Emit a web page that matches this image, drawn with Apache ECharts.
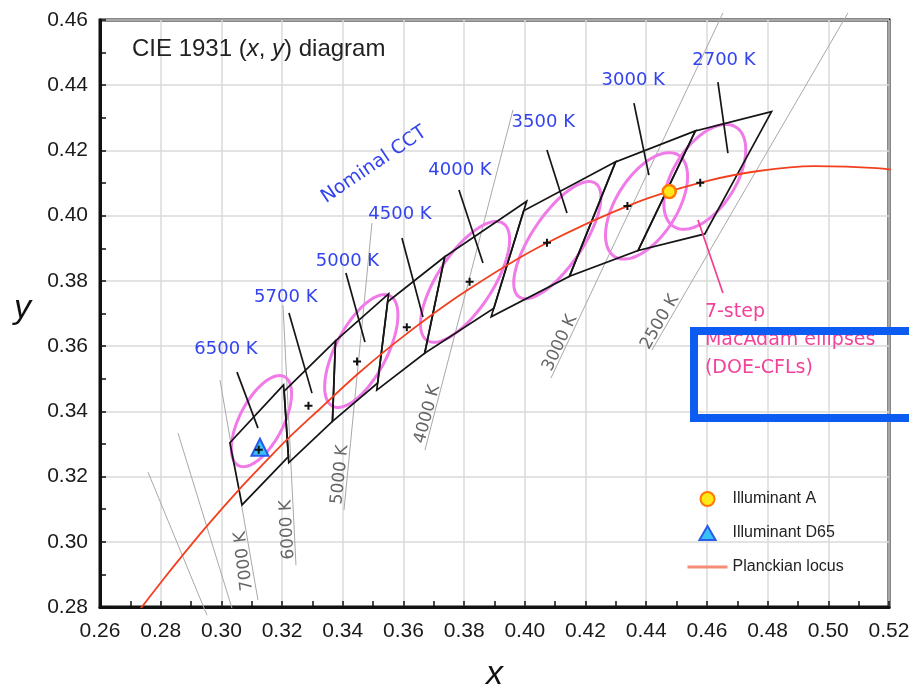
<!DOCTYPE html>
<html><head><meta charset="utf-8">
<script src="https://cdn.jsdelivr.net/npm/echarts@6/dist/echarts.min.js"></script>
<style>html,body{margin:0;padding:0;background:#fff}#c{width:909px;height:686px}</style>
</head><body><div id="c"></div>
<script>
// Planckian locus (CIE 1931 x, y)
const planckX = [0.2718,0.2807,0.2870,0.2952,0.3064,0.3135,0.3221,0.3325,0.3451,0.3608,0.3805,0.4053,0.4369,0.4599,0.4770,0.4953,0.5160,0.5269];
const planckY = [0.2776,0.2883,0.2956,0.3048,0.3166,0.3236,0.3318,0.3408,0.3516,0.3636,0.3768,0.3907,0.4041,0.4106,0.4137,0.4152,0.4146,0.4133];

// Nominal CCT quadrangles (corners x1,y1..x4,y4)
const quadNames = ['2700 K','3000 K','3500 K','4000 K','4500 K','5000 K','5700 K','6500 K'];
const quadCorners = [
  [0.4813,0.4319, 0.4562,0.4260, 0.4373,0.3893, 0.4593,0.3944],
  [0.4562,0.4260, 0.4299,0.4165, 0.4147,0.3814, 0.4373,0.3893],
  [0.4299,0.4165, 0.3996,0.4015, 0.3889,0.3690, 0.4147,0.3814],
  [0.4006,0.4044, 0.3736,0.3874, 0.3670,0.3578, 0.3898,0.3716],
  [0.3736,0.3874, 0.3548,0.3736, 0.3512,0.3465, 0.3670,0.3578],
  [0.3551,0.3760, 0.3376,0.3616, 0.3366,0.3369, 0.3515,0.3487],
  [0.3376,0.3616, 0.3207,0.3462, 0.3222,0.3243, 0.3366,0.3369],
  [0.3205,0.3481, 0.3028,0.3304, 0.3068,0.3113, 0.3221,0.3261]
];
const quadCenterX = [0.4578,0.4338,0.4073,0.3818,0.3611,0.3447,0.3287,0.3123];
const quadCenterY = [0.4101,0.4030,0.3917,0.3797,0.3658,0.3553,0.3417,0.3282];

// 7-step MacAdam ellipses (center, semi-axes, angle in degrees)
const ellCx = [0.3132,0.3461,0.3803,0.4107,0.4401,0.4593];
const ellCy = [0.3370,0.3585,0.3797,0.3925,0.4030,0.4119];
const ellA  = [0.0156,0.0194,0.0219,0.0215,0.0188,0.0184];
const ellB  = [0.0071,0.0083,0.0089,0.0082,0.0098,0.0101];
const ellAngle = [60,60,54.3,53.6,54.5,54.4];

// Isotherm lines (x1,y1,x2,y2)
const isoLines = [
  [0.27582,0.32135,0.29526,0.27748],
  [0.28570,0.33331,0.30349,0.27963],
  [0.29954,0.34957,0.31206,0.28209],
  [0.32030,0.37258,0.32458,0.29282],
  [0.34962,0.39773,0.34040,0.30969],
  [0.39608,0.43239,0.36708,0.32810],
  [0.46527,0.46215,0.40860,0.35018],
  [0.50646,0.46215,0.44188,0.35877]
];
const isoLabels = ['7000 K','6000 K','5000 K','4000 K','3000 K','2500 K'];
const isoLabelX = [0.30745,0.32178,0.33908,0.36791,0.41157,0.44451];
const isoLabelY = [0.29405,0.30371,0.32058,0.33914,0.36092,0.36736];
const isoLabelAngle = [97,93,84,75,65,60];

// Nominal CCT labels and leader lines
const cctLabels = ['6500 K','5700 K','5000 K','4500 K','4000 K','3500 K','3000 K','2700 K'];
const cctLabelX = [0.30152,0.32122,0.34155,0.35885,0.37862,0.40607,0.43572,0.46560];
const cctLabelY = [0.35908,0.37488,0.38607,0.40049,0.41399,0.42856,0.44135,0.44773];
const leaderLines = [
  [0.30514,0.35202,0.31206,0.33485],
  [0.32227,0.37012,0.32985,0.34558],
  [0.34105,0.38239,0.34731,0.36123],
  [0.35950,0.39313,0.36642,0.36890],
  [0.37829,0.40785,0.38620,0.38546],
  [0.40728,0.42012,0.41387,0.40080],
  [0.43595,0.43450,0.44089,0.41245],
  [0.46362,0.44098,0.46692,0.41920]
];
const pinkLeader = [[0.45704,0.39865,0.46527,0.37626]];
const nominalText = ['Nominal CCT'];
const nominalX = [0.35030], nominalY = [0.41560], nominalAngle = [34];
const ellText = ['7-step\nMacAdam ellipses\n(DOE-CFLs)'];
const ellTextX = [0.45934], ellTextY = [0.37488];

// Illuminants
const illumA = [[0.4476,0.4074]];
const illumD65 = [[0.3127,0.3290]];

const chart = echarts.init(document.getElementById('c'));

function segSeries(segs, color, width, z) {
  return {
    type: 'custom', z: z, silent: true, data: segs,
    renderItem: function (params, api) {
      const p1 = api.coord([api.value(0), api.value(1)]);
      const p2 = api.coord([api.value(2), api.value(3)]);
      return {type: 'line', shape: {x1: p1[0], y1: p1[1], x2: p2[0], y2: p2[1]},
        style: {stroke: color, lineWidth: width}};
    }
  };
}
function textSeries(xs, ys, texts, rots, st, z) {
  return {
    type: 'custom', z: z, silent: true,
    data: xs.map(function (x, i) { return [x, ys[i]]; }),
    renderItem: function (params, api) {
      const i = params.dataIndex;
      const p = api.coord([xs[i], ys[i]]);
      return {type: 'text', x: p[0], y: p[1], rotation: (rots ? rots[i] : 0) * Math.PI / 180,
        style: Object.assign({text: texts[i]}, st)};
    }
  };
}

const axisCommon = {
  type: 'value', interval: 0.02,
  axisLine: {show: true, lineStyle: {color: '#111', width: 3}},
  axisTick: {show: true, inside: true, length: 6, lineStyle: {color: '#111', width: 1.5}},
  minorTick: {show: true, splitNumber: 2, length: 6, lineStyle: {color: '#111', width: 1.5}},
  axisLabel: {formatter: function (v) { return v.toFixed(2); }, fontFamily: 'Liberation Sans', fontSize: 21, color: '#1a1a1a'},
  splitLine: {show: true, lineStyle: {color: '#dadada', width: 1.5}}
};

const triIcon = 'path://M0,10L5.774,0L11.547,10Z';

const option = {
  animation: false,
  backgroundColor: '#fff',
  title: {
    text: 'CIE 1931 ({i|x}, {i|y}) diagram', left: 132, top: 37, padding: 0,
    textStyle: {fontFamily: 'Liberation Sans', fontSize: 24, fontWeight: 'normal', color: '#222',
      rich: {i: {fontStyle: 'italic', fontFamily: 'Liberation Sans', fontSize: 24, color: '#222'}}}
  },
  grid: {left: 100, right: 20, top: 20, bottom: 79, show: true, borderColor: '#111', borderWidth: 3,
    containLabel: false, outerBoundsMode: 'none'},
  legend: {
    left: 686, top: 491, orient: 'vertical', itemWidth: 40, itemHeight: 14, itemGap: 18, padding: 0,
    symbolKeepAspect: true,
    textStyle: {fontFamily: 'Liberation Sans', fontSize: 16, color: '#222'},
    data: [{name: 'Illuminant A', icon: 'circle'}, {name: 'Illuminant D65', icon: triIcon},
      {name: 'Planckian locus', lineStyle: {width: 3, color: '#f58c78'}, itemStyle: {opacity: 0}}]
  },
  xAxis: Object.assign({}, axisCommon, {
    min: 0.26, max: 0.52, name: 'x', nameLocation: 'middle', nameGap: 51,
    axisLabel: Object.assign({}, axisCommon.axisLabel, {margin: 14}),
    nameTextStyle: {fontFamily: 'Liberation Sans', fontStyle: 'italic', fontSize: 34, color: '#111'}
  }),
  yAxis: Object.assign({}, axisCommon, {
    min: 0.28, max: 0.46,
    axisLabel: Object.assign({}, axisCommon.axisLabel, {margin: 12})
  }),
  series: [
    segSeries(isoLines, '#a9a9a9', 1, 2),
    {
      type: 'custom', z: 3, silent: true,
      data: ellCx.map(function (x, i) { return [x, ellCy[i]]; }),
      renderItem: function (params, api) {
        const i = params.dataIndex;
        const th = ellAngle[i] * Math.PI / 180, c = Math.cos(th), s = Math.sin(th);
        const pts = [];
        for (let k = 0; k < 96; k++) {
          const t = k / 96 * 2 * Math.PI;
          const dx = ellA[i] * c * Math.cos(t) - ellB[i] * s * Math.sin(t);
          const dy = ellA[i] * s * Math.cos(t) + ellB[i] * c * Math.sin(t);
          pts.push(api.coord([ellCx[i] + dx, ellCy[i] + dy]));
        }
        return {type: 'polygon', shape: {points: pts}, style: {fill: 'none', stroke: '#f07ae8', lineWidth: 3}};
      }
    },
    {
      type: 'custom', z: 4, silent: true, data: quadCorners,
      renderItem: function (params, api) {
        const pts = [];
        for (let k = 0; k < 4; k++) pts.push(api.coord([api.value(2 * k), api.value(2 * k + 1)]));
        return {type: 'polygon', shape: {points: pts}, style: {fill: 'none', stroke: '#151515', lineWidth: 1.7}};
      }
    },
    {
      name: 'Planckian locus', type: 'line', z: 5, smooth: 0.3, symbol: 'none', showSymbol: false,
      data: planckX.map(function (x, i) { return [x, planckY[i]]; }),
      lineStyle: {color: '#f2401f', width: 1.8}, itemStyle: {color: '#f2401f'}
    },
    segSeries(leaderLines, '#151515', 1.7, 6),
    segSeries(pinkLeader, '#f0408f', 1.7, 6),
    {
      name: 'Illuminant A', type: 'scatter', z: 7, symbol: 'circle', symbolSize: 13, data: illumA,
      itemStyle: {color: '#ffe81a', borderColor: '#ff7800', borderWidth: 2.5, opacity: 1}
    },
    {
      name: 'Illuminant D65', type: 'scatter', z: 7, symbol: 'triangle', symbolSize: 17, data: illumD65,
      itemStyle: {color: '#36c2f5', borderColor: '#2a5bea', borderWidth: 2, opacity: 1}
    },
    {
      type: 'scatter', z: 8, silent: true, symbol: 'path://M-1,-4H1V-1H4V1H1V4H-1V1H-4V-1H-1Z', symbolSize: 8,
      data: quadCenterX.map(function (x, i) { return [x, quadCenterY[i]]; }),
      itemStyle: {color: '#111', opacity: 1}
    },
    textSeries(cctLabelX, cctLabelY, cctLabels, null,
      {fill: '#3344ee', font: '18px "DejaVu Sans"', align: 'center', verticalAlign: 'middle', textAlign: 'center', textVerticalAlign: 'middle'}, 9),
    textSeries(nominalX, nominalY, nominalText, nominalAngle,
      {fill: '#3344ee', font: '19px "DejaVu Sans"', align: 'center', verticalAlign: 'middle', textAlign: 'center', textVerticalAlign: 'middle'}, 9),
    textSeries(isoLabelX, isoLabelY, isoLabels, isoLabelAngle,
      {fill: '#666', font: '17px "DejaVu Sans"', align: 'center', verticalAlign: 'middle', textAlign: 'center', textVerticalAlign: 'middle'}, 9),
    textSeries(ellTextX, ellTextY, ellText, null,
      {fill: '#f2439a', font: '19px "DejaVu Sans"', lineHeight: 28, align: 'left', verticalAlign: 'top', textAlign: 'left', textVerticalAlign: 'top'}, 9)
  ],
  graphic: [{
    type: 'text', left: 14, top: 292, silent: true,
    style: {text: 'y', font: 'italic 34px "Liberation Sans"', fill: '#111'}
  }, {
    type: 'rect', z: 100, silent: true,
    shape: {x: 694, y: 331, width: 240, height: 87},
    style: {fill: 'none', stroke: '#0d5cf2', lineWidth: 8}
  }]
};
chart.setOption(option);
</script></body></html>
